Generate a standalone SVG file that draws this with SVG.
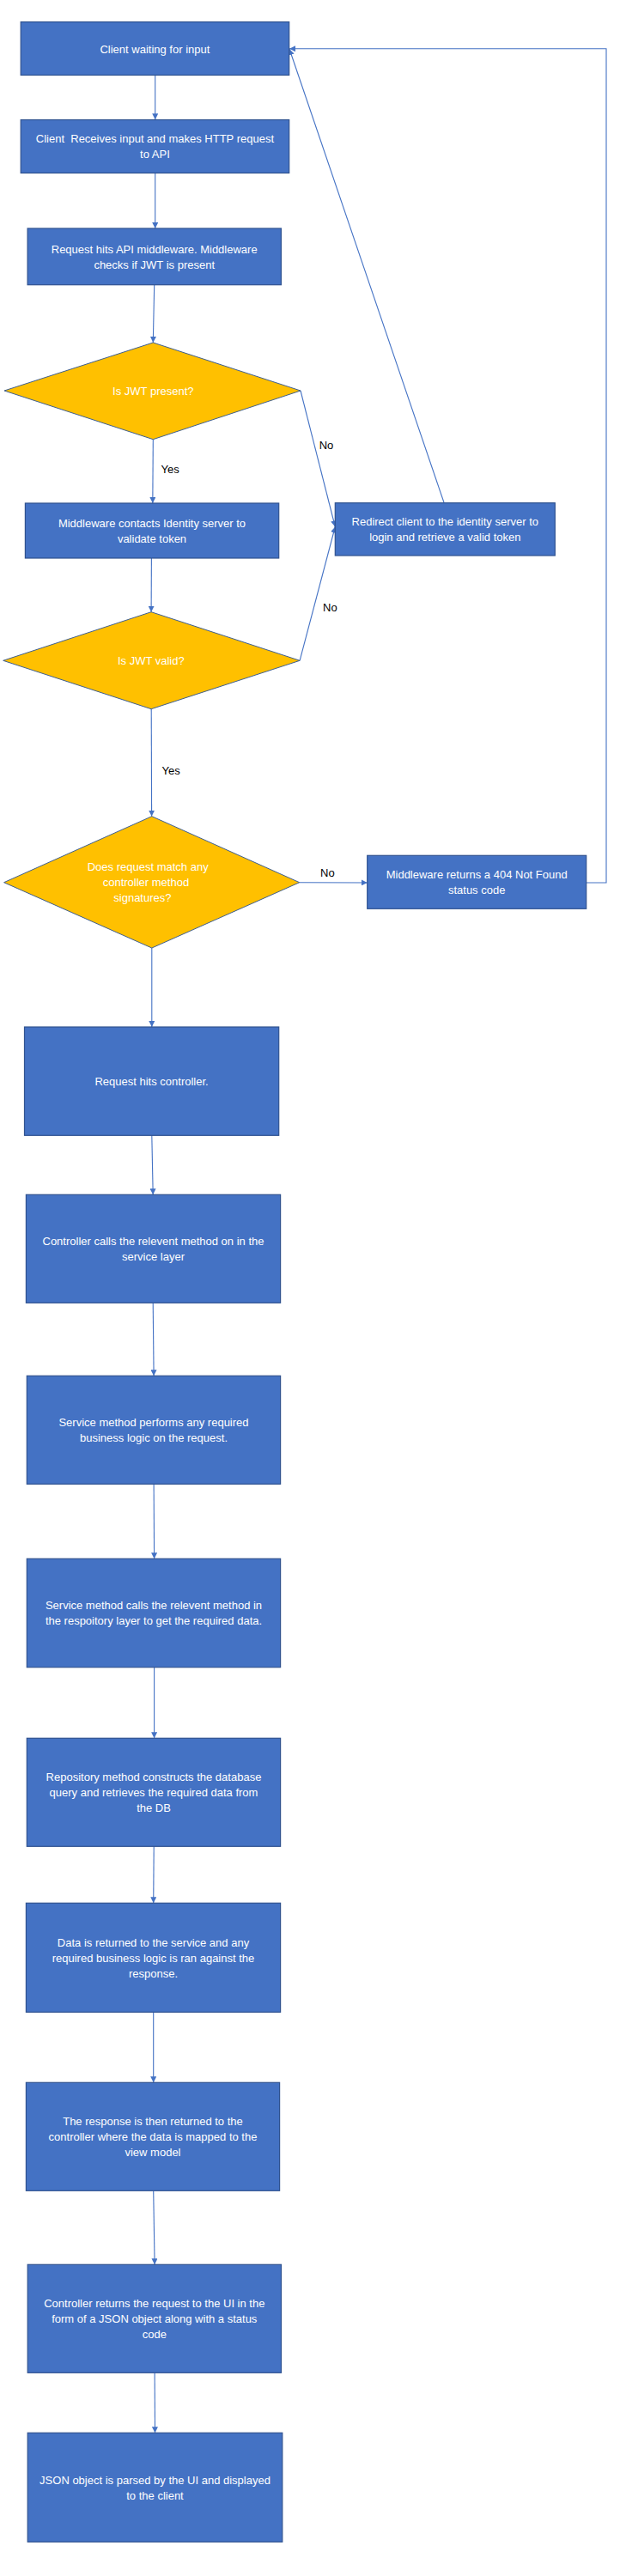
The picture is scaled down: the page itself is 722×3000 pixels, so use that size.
<svg xmlns="http://www.w3.org/2000/svg" width="722" height="3000" viewBox="0 0 722 3000">
<style>
.box{fill:#4472C4;stroke:#2F528F;stroke-width:1.2}
.dia{fill:#FFC000;stroke:#3F5F8F;stroke-width:1}
.t{font-family:"Liberation Sans",Arial,sans-serif;font-size:13px;fill:#FFFFFF;text-anchor:middle;dominant-baseline:central}
.lbl{font-family:"Liberation Sans",Arial,sans-serif;font-size:13px;fill:#000000;dominant-baseline:central}
.c{fill:none;stroke:#4472C4;stroke-width:1.1}
</style>
<defs>
<marker id="ah" viewBox="0 0 10 10" refX="10" refY="5" markerWidth="7" markerHeight="7" markerUnits="userSpaceOnUse" orient="auto">
<path d="M0,0 L10,5 L0,10 z" fill="#4472C4"/>
</marker>
</defs>
<rect width="722" height="3000" fill="#FFFFFF"/>
<g id="connectors">
<path class="c" d="M180.7 87.3 V139.3" marker-end="url(#ah)"/>
<path class="c" d="M180.7 201.3 V266" marker-end="url(#ah)"/>
<path class="c" d="M179.7 331.7 L178.3 399" marker-end="url(#ah)"/>
<path class="c" d="M178.3 512 L177.8 586" marker-end="url(#ah)"/>
<path class="c" d="M350 455 L390.3 613.5" marker-end="url(#ah)"/>
<path class="c" d="M349.1 769.3 L390.3 613.5" marker-end="url(#ah)"/>
<path class="c" d="M517 585.3 L337 57" marker-end="url(#ah)"/>
<path class="c" d="M176.4 650 L176.1 712.7" marker-end="url(#ah)"/>
<path class="c" d="M176.2 825.7 L176.6 950.7" marker-end="url(#ah)"/>
<path class="c" d="M348.7 1027.7 L427.7 1028" marker-end="url(#ah)"/>
<path class="c" d="M682.7 1028 H706 V56.7 H337" marker-end="url(#ah)"/>
<path class="c" d="M176.8 1104 V1196" marker-end="url(#ah)"/>
<path class="c" d="M176.8 1322.3 L178.2 1391.3" marker-end="url(#ah)"/>
<path class="c" d="M178.2 1517.3 L179.1 1602.3" marker-end="url(#ah)"/>
<path class="c" d="M179.1 1728.3 L179.6 1815.3" marker-end="url(#ah)"/>
<path class="c" d="M179.6 1941.7 V2024.3" marker-end="url(#ah)"/>
<path class="c" d="M179.2 2150.3 L178.7 2216.3" marker-end="url(#ah)"/>
<path class="c" d="M178.7 2343.3 V2425.3" marker-end="url(#ah)"/>
<path class="c" d="M178.7 2551.3 L180.1 2637.3" marker-end="url(#ah)"/>
<path class="c" d="M180.1 2763.3 L180.5 2833.3" marker-end="url(#ah)"/>
<text class="lbl" x="187.6" y="546">Yes</text>
<text class="lbl" x="371.7" y="518">No</text>
<text class="lbl" x="376" y="707">No</text>
<text class="lbl" x="188.6" y="897">Yes</text>
<text class="lbl" x="373" y="1016">No</text>
</g>
<g id="n1"><rect class="box" x="24.2" y="25.5" width="312.5" height="62"/>
<text class="t" x="180.4" y="57">Client waiting for input</text></g>
<g id="n2"><rect class="box" x="24.2" y="139.5" width="312.5" height="62"/>
<text class="t" x="180.4" y="161.7" xml:space="preserve">Client  Receives input and makes HTTP request</text>
<text class="t" x="180.4" y="179.5">to API</text></g>
<g id="n3"><rect class="box" x="32.1" y="266" width="295.3" height="65.7"/>
<text class="t" x="179.7" y="290.7">Request hits API middleware. Middleware</text>
<text class="t" x="179.7" y="308.5">checks if JWT is present</text></g>
<g id="d1"><polygon class="dia" points="178.3,399 350,455 178.3,511.7 5,455"/>
<text class="t" x="178.3" y="455">Is JWT present?</text></g>
<g id="n4"><rect class="box" x="29.4" y="586" width="295.3" height="64"/>
<text class="t" x="177" y="609.3">Middleware contacts Identity server to</text>
<text class="t" x="177" y="627.3">validate token</text></g>
<g id="n5"><rect class="box" x="390.3" y="585.7" width="256" height="61.3"/>
<text class="t" x="518.3" y="607.3">Redirect client to the identity server to</text>
<text class="t" x="518.3" y="625">login and retrieve a valid token</text></g>
<g id="d2"><polygon class="dia" points="176.1,712.7 349.1,769.3 176.1,825.7 3.7,769.3"/>
<text class="t" x="175.8" y="769.3">Is JWT valid?</text></g>
<g id="d3"><polygon class="dia" points="176.8,950.7 348.7,1027.7 176.8,1104 4.6,1027.7"/>
<text class="t" x="172.2" y="1009.7">Does request match any</text>
<text class="t" x="169.9" y="1027.7">controller method</text>
<text class="t" x="165.9" y="1045.7">signatures?</text></g>
<g id="n6"><rect class="box" x="427.7" y="996.3" width="255" height="62"/>
<text class="t" x="555.2" y="1018.7">Middleware returns a 404 Not Found</text>
<text class="t" x="555.2" y="1036.7">status code</text></g>
<g id="n7"><rect class="box" x="28.5" y="1196" width="296.2" height="126.3"/>
<text class="t" x="176.6" y="1259.3">Request hits controller.</text></g>
<g id="n8"><rect class="box" x="30.4" y="1391.3" width="296.2" height="126"/>
<text class="t" x="178.5" y="1445.3">Controller calls the relevent method on in the</text>
<text class="t" x="178.5" y="1463.5">service layer</text></g>
<g id="n9"><rect class="box" x="31.3" y="1602.3" width="295.3" height="126"/>
<text class="t" x="179" y="1656.3">Service method performs any required</text>
<text class="t" x="179" y="1674.3">business logic on the request.</text></g>
<g id="n10"><rect class="box" x="31.3" y="1815.3" width="295.3" height="126.4"/>
<text class="t" x="179" y="1869.7">Service method calls the relevent method in</text>
<text class="t" x="179" y="1887.7">the respoitory layer to get the required data.</text></g>
<g id="n11"><rect class="box" x="31.3" y="2024.3" width="295.3" height="126"/>
<text class="t" x="179" y="2069.7">Repository method constructs the database</text>
<text class="t" x="179" y="2087.7">query and retrieves the required data from</text>
<text class="t" x="179" y="2105.7">the DB</text></g>
<g id="n12"><rect class="box" x="30.4" y="2216.3" width="296.2" height="127"/>
<text class="t" x="178.5" y="2262.7">Data is returned to the service and any</text>
<text class="t" x="178.5" y="2280.7">required business logic is ran against the</text>
<text class="t" x="178.5" y="2298.7">response.</text></g>
<g id="n13"><rect class="box" x="30.4" y="2425.3" width="295.2" height="126"/>
<text class="t" x="178" y="2470.3">The response is then returned to the</text>
<text class="t" x="178" y="2488.3">controller where the data is mapped to the</text>
<text class="t" x="178" y="2506.3">view model</text></g>
<g id="n14"><rect class="box" x="32.2" y="2637.3" width="295.3" height="126"/>
<text class="t" x="179.8" y="2682.7">Controller returns the request to the UI in the</text>
<text class="t" x="179.8" y="2700.7">form of a JSON object along with a status</text>
<text class="t" x="179.8" y="2718.7">code</text></g>
<g id="n15"><rect class="box" x="32.2" y="2833.3" width="296.6" height="127"/>
<text class="t" x="180.5" y="2888.7">JSON object is parsed by the UI and displayed</text>
<text class="t" x="180.5" y="2906.7">to the client</text></g>
</svg>
